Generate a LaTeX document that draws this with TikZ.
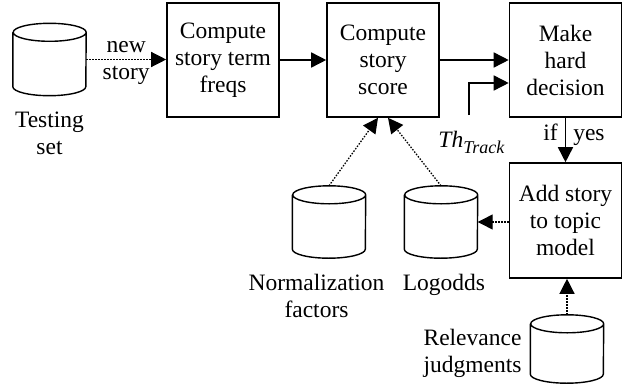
\documentclass[tikz,border=0pt]{standalone}
\usepackage{fontspec}
\setmainfont{Liberation Serif}
\usetikzlibrary{arrows.meta,calc}

\begin{document}
\begin{tikzpicture}[x=1pt,y=-1pt,
        every node/.style={font=\fontsize{23.5}{27}\selectfont, align=center, inner sep=0pt},
        proc/.style={draw, line width=1.6pt, minimum width=112pt, minimum height=114pt},
        store/.style={minimum width=73pt, minimum height=72pt},
        flow/.style={line width=1.6pt, -{Triangle[length=15pt,width=15pt]}},
        feed/.style={flow, line width=1.3pt, dash pattern=on 1.5pt off 1.5pt}]
        \useasboundingbox (0,0) rectangle (629,388);
        % stores
        \node[store] (testset) at (49.5,59.5) {};
        \node (testlbl) at (49.5,133) {Testing\\set};
        \node[store] (norm) at (329,222) {};
        \node (normlbl) at (316.5,296) {Normalization\\factors};
        \node[store] (logodds) at (441,222) {};
        \node (logoddslbl) at (444,285) {Logodds};
        \node[store, minimum height=68pt] (relev) at (567,349) {};
        \node (relevlbl) at (472.5,353.5) {Relevance\\judgments};
        \foreach \db in {testset,norm,logodds,relev} {
                \draw[line width=1.4pt] ([yshift=-9pt]\db.north west) -- ([yshift=9pt]\db.south west)
                        arc[start angle=180, end angle=360, x radius=36.5pt, y radius=9pt]
                        -- ([yshift=-9pt]\db.north east)
                        arc[start angle=0, end angle=360, x radius=36.5pt, y radius=9pt];
        }
        % steps
        \node[proc] (freqs) at (223,60) {Compute\\story term\\freqs};
        \node[proc] (score) at (383,60) {Compute\\story\\score};
        \node[proc] (decide) at (565.5,60) {Make\\hard\\decision};
        \node[proc, minimum height=115pt] (addstory) at (565.5,220.5) {Add story\\to topic\\model};
        % threshold
        \coordinate (thin) at (469,115);
        \node (thlbl) at (471.5,142.5) {\textit{Th}{\fontsize{18}{18}\selectfont\raisebox{-6pt}{\textit{Track}}}};
        % connectors
        \draw[feed] (testset.east) -- node[yshift=-3pt]{new\\story} (testset.east -| freqs.west);
        \draw[flow] (freqs) -- (score);
        \draw[flow] (score) -- (decide);
        \draw[flow] (thin) |- ([yshift=-23pt]decide.west);
        \draw[flow] (decide) -- node[pos=0.5, anchor=base east, xshift=-7pt]{if}
                node[pos=0.5, anchor=base west, xshift=7pt]{yes} (addstory);
        \draw[feed] (norm.north) -- ([xshift=-5pt]score.south);
        \draw[feed] (logodds.north) -- ([xshift=5pt]score.south);
        \draw[feed] (addstory.west |- logodds) -- (logodds.east);
        \draw[feed] (relev.north) -- (relev.north |- addstory.south);
\end{tikzpicture}
\end{document}
